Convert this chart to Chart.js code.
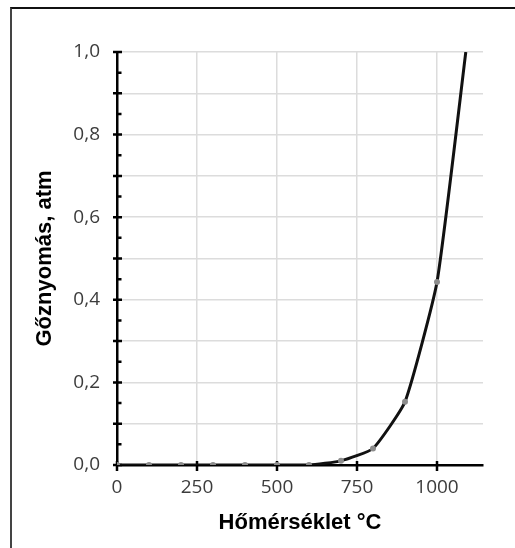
<!DOCTYPE html>
<html>
<head>
<meta charset="utf-8">
<script src="https://cdn.jsdelivr.net/npm/chart.js@4.4.1/dist/chart.umd.min.js"></script>
<style>
  html, body { margin: 0; padding: 0; background: #fff; overflow: hidden; }
  #frame {
    position: absolute; left: 10px; top: 7px; width: 540px; height: 580px;
    border-left: 2px solid #444; border-top: 2px solid #111;
  }
  #grafico { position: absolute; left: 0; top: 0; }
</style>
</head>
<body>
<div id="frame"></div>
<canvas id="grafico" width="515" height="548"></canvas>
<script>
// Hőmérséklet (°C) és gőznyomás (atm)
const temperaturas = [0, 100, 200, 300, 400, 500, 600, 700, 800, 900, 1000, 1090];
const presiones = [0, 0, 0, 0, 0, 0, 0, 0.01, 0.04, 0.153, 0.443, 1.0];

const xTicks = [0, 250, 500, 750, 1000];
const yTicks = [0, 0.1, 0.2, 0.3, 0.4, 0.5, 0.6, 0.7, 0.8, 0.9, 1.0];
const yLabels = ["0,0", "", "0,2", "", "0,4", "", "0,6", "", "0,8", "", "1,0"];

const tickFont = { family: "'Open Sans', sans-serif", size: 19 };
const titleFont = { family: "'Liberation Sans', Arial, sans-serif", size: 22, weight: "bold" };

// marcas de los ejes que cruzan la línea del eje
const marcasEjes = {
    id: "marcasEjes",
    beforeDatasetsDraw(chart) {
        const ctx = chart.ctx;
        const xs = chart.scales.x;
        const ys = chart.scales.y;
        const left = chart.chartArea.left;
        const bottom = chart.chartArea.bottom;
        ctx.save();
        ctx.strokeStyle = "#000";
        ctx.lineWidth = 2.5;
        ctx.beginPath();
        yTicks.forEach((v, i) => {
            const y = ys.getPixelForValue(v);
            ctx.moveTo(left - 4, y);
            ctx.lineTo(left + 5, y);
            if (i < yTicks.length - 1) {
                const ym = ys.getPixelForValue((v + yTicks[i + 1]) / 2);
                ctx.moveTo(left, ym);
                ctx.lineTo(left + 4.5, ym);
            }
        });
        xTicks.forEach(v => {
            const x = xs.getPixelForValue(v);
            ctx.moveTo(x, bottom - 4);
            ctx.lineTo(x, bottom + 6);
        });
        ctx.stroke();
        ctx.restore();
    }
};

const ctx = document.getElementById("grafico").getContext("2d");

new Chart(ctx, {
    type: "line",
    data: {
        datasets: [{
            data: temperaturas.map((t, i) => ({ x: t, y: presiones[i] })),
            borderColor: "#111",
            borderWidth: 3,
            tension: 0.15,
            fill: false,
            pointRadius: temperaturas.map((t, i) => i === temperaturas.length - 1 ? 0 : 3),
            pointBackgroundColor: "#8c8c8c",
            pointBorderColor: "#8c8c8c",
            pointBorderWidth: 0
        }]
    },
    options: {
        responsive: false,
        animation: false,
        devicePixelRatio: 1,
        layout: { padding: { left: 32, top: 52, right: 32, bottom: 12 } },
        plugins: {
            legend: { display: false },
            tooltip: { enabled: false }
        },
        events: [],
        scales: {
            x: {
                type: "linear",
                min: 0,
                max: 1143.75,
                afterBuildTicks: scale => { scale.ticks = xTicks.map(v => ({ value: v })); },
                afterFit: scale => { scale.height = 71; },
                ticks: {
                    autoSkip: false,
                    maxRotation: 0,
                    padding: 11,
                    color: "#3c3c3c",
                    font: tickFont,
                    callback: v => String(v)
                },
                grid: { color: "#dcdcdc", lineWidth: 1.5, drawTicks: false },
                border: { color: "#000", width: 2.5 },
                title: {
                    display: true,
                    text: "Hőmérséklet °C",
                    color: "#000",
                    font: titleFont,
                    padding: { top: 0, bottom: 0 }
                }
            },
            y: {
                min: 0,
                max: 1,
                afterBuildTicks: scale => { scale.ticks = yTicks.map(v => ({ value: v })); },
                afterFit: scale => { scale.width = 85; },
                ticks: {
                    autoSkip: false,
                    padding: 17,
                    color: "#3c3c3c",
                    font: tickFont,
                    callback: (v, i) => yLabels[i]
                },
                grid: { color: "#dcdcdc", lineWidth: 1.5, drawTicks: false },
                border: { color: "#000", width: 2.5 },
                title: {
                    display: true,
                    text: "Gőznyomás, atm",
                    color: "#000",
                    font: titleFont,
                    padding: { top: 0, bottom: 0 }
                }
            }
        }
    },
    plugins: [marcasEjes]
});
</script>
</body>
</html>
